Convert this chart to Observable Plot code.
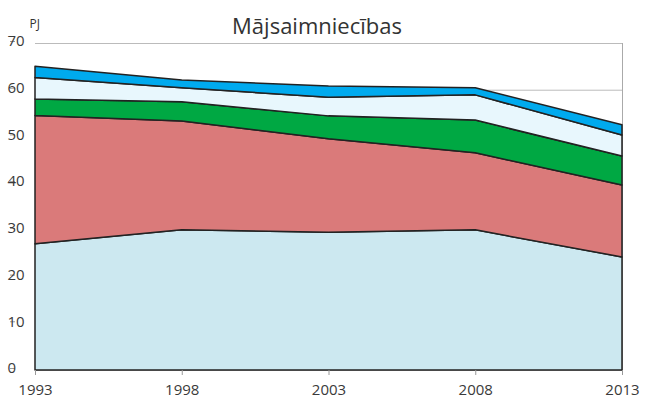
<!DOCTYPE html>
<html><head><meta charset="utf-8">
<script src="https://cdn.jsdelivr.net/npm/d3@7"></script>
<script src="https://cdn.jsdelivr.net/npm/@observablehq/plot@0.6"></script>
<style>body{margin:0;background:#fff;font-family:"Open Sans",sans-serif}</style>
</head><body><div id="chart"></div>
<script>
const years = [1993, 1998, 2003, 2008, 2013];
const seriesNames = ["Sērija 1", "Sērija 2", "Sērija 3", "Sērija 4", "Sērija 5"];
const s1 = [27.0, 30.0, 29.5, 30.0, 24.2];
const s2 = [27.5, 23.3, 20.0, 16.5, 15.4];
const s3 = [3.5, 4.1, 4.9, 7.0, 6.2];
const s4 = [4.6, 3.0, 4.0, 5.4, 4.5];
const s5 = [2.4, 1.7, 2.4, 1.5, 2.2];
const colors = ["#cce8f0", "#da7a7a", "#00a843", "#e8f7fd", "#00aaee"];
const yTicks = [0, 10, 20, 30, 40, 50, 60, 70];
const title = "Mājsaimniecības";
const unit = "PJ";

const allSeries = [s1, s2, s3, s4, s5];
const rows = [];
allSeries.forEach((vals, i) => vals.forEach((v, j) => rows.push({year: years[j], value: v, series: seriesNames[i]})));

const plot = Plot.plot({
  width: 646, height: 403,
  marginLeft: 35, marginRight: 24, marginTop: 43, marginBottom: 33,
  style: {fontFamily: "Open Sans", fontSize: "15px", color: "#3a3a3a", background: "#fff"},
  x: {type: "linear", domain: [1993, 2013]},
  y: {domain: [0, 70]},
  color: {domain: seriesNames, range: colors},
  marks: [
    Plot.gridY(yTicks, {stroke: "#bbb", strokeOpacity: 1}),
    Plot.ruleX([2013], {stroke: "#aaa"}),
    Plot.areaY(rows, {x: "year", y: "value", z: "series", fill: "series", stroke: "#222", strokeWidth: 1.5, strokeLinejoin: "round"}),
    Plot.axisY({ticks: yTicks, tickSize: 5, tickPadding: 3, stroke: "#999", label: null, textAnchor: "start", dx: -20, dy: -2, fontSize: 15}),
    Plot.axisX({ticks: years, tickFormat: "d", tickSize: 5, tickPadding: 9, stroke: "#999", label: null, fontSize: 15}),
    Plot.text([unit], {frameAnchor: "top-left", textAnchor: "start", dx: -6, dy: -24, fontSize: 12, fill: "#333"}),
    Plot.text([title], {frameAnchor: "top", dx: -12, dy: -25, fontSize: 22, fill: "#333"})
  ]
});
document.getElementById("chart").appendChild(plot);
</script></body></html>
